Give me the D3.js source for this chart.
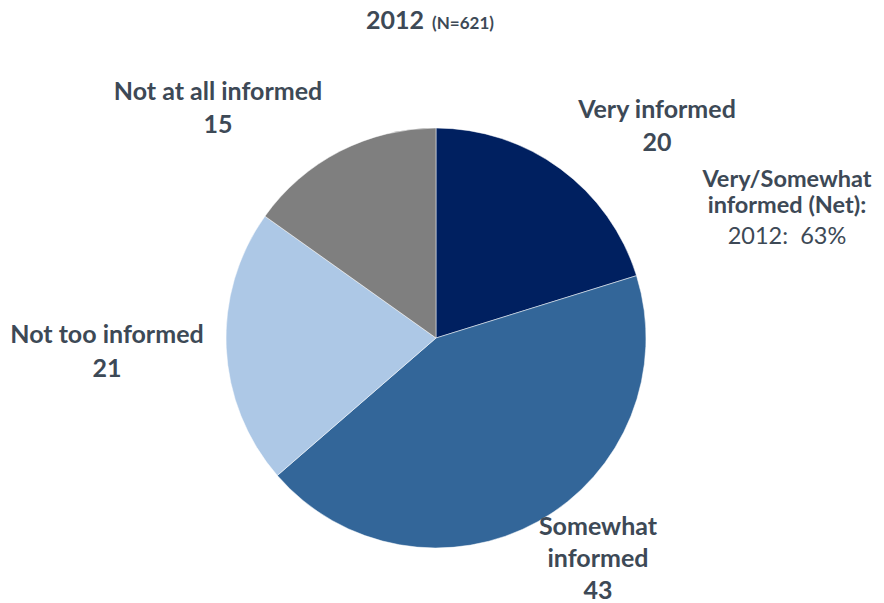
<!DOCTYPE html>
<html><head><meta charset="utf-8">
<script src="https://cdn.jsdelivr.net/npm/d3@7"></script>
<style>body{margin:0;background:#fff;} text{font-family:Lato,"Open Sans",sans-serif;}</style>
</head><body><svg id="c" width="884" height="603"></svg>
<script>
const categories = ["Very informed", "Somewhat informed", "Not too informed", "Not at all informed"];
const values = [20, 43, 21, 15];
const colors = ["#002060", "#336699", "#adc8e6", "#7f7f7f"];
const title = "2012";
const subtitle = "(N=621)";
const netLines = ["Very/Somewhat", "informed (Net):"];
const netValue = "2012:  63%";

const svg = d3.select("#c");
const cx = 436, cy = 338, r = 210;
const textColor = "#3d4956";
const pie = d3.pie().sort(null).value(d => d)(values);
const arc = d3.arc().innerRadius(0).outerRadius(r);
const g = svg.append("g").attr("transform", `translate(${cx},${cy})`);
g.selectAll("path").data(pie).join("path")
  .attr("d", arc).attr("fill", (d,i) => colors[i])
  .attr("stroke", "#fff").attr("stroke-width", 0.5);

// title
const t = svg.append("text").attr("x", 430).attr("y", 29).attr("text-anchor", "middle")
  .attr("fill", textColor).attr("font-weight", "bold");
t.append("tspan").attr("font-size", 25).text(title);
t.append("tspan").attr("font-size", 17).attr("dx", 8).text(subtitle);

// labels
const labelDefs = [
  {x: 657, y: 118, dy: 33, lines: ["Very informed"]},
  {x: 598, y: 535, dy: 32, lines: ["Somewhat", "informed"]},
  {x: 107, y: 343, dy: 34, lines: ["Not too informed"]},
  {x: 218, y: 100, dy: 33, lines: ["Not at all informed"]}
];
labelDefs.forEach((L, i) => {
  const txt = svg.append("text").attr("text-anchor", "middle").attr("fill", textColor)
    .attr("font-weight", "bold").attr("font-size", 25);
  const lines = L.lines.concat([String(values[i])]);
  lines.forEach((s, j) => {
    txt.append("tspan").attr("x", L.x).attr("y", L.y + j * L.dy).text(s);
  });
});

const net = svg.append("text").attr("text-anchor", "middle").attr("fill", textColor)
  .attr("font-size", 23.5);
netLines.forEach((s, j) => net.append("tspan").attr("x", 787).attr("y", 187 + j * 26)
  .attr("font-weight", "bold").text(s));
net.append("tspan").attr("x", 787).attr("y", 244).attr("xml:space", "preserve").style("white-space", "pre").text(netValue);
</script></body></html>
